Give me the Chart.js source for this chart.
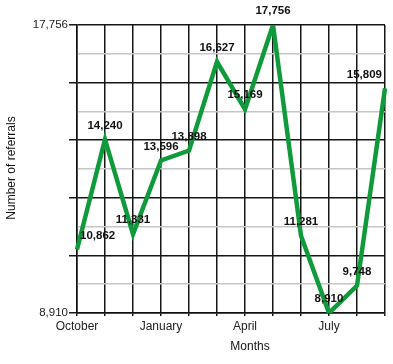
<!DOCTYPE html>
<html>
<head>
<meta charset="utf-8">
<script src="https://cdn.jsdelivr.net/npm/chart.js@4"></script>
<style>
  html, body { margin: 0; padding: 0; background: #fff; }
  #wrap { width: 393px; height: 364px; }
</style>
</head>
<body>
<div id="wrap"><canvas id="chart"></canvas></div>
<script>
// datos del gráfico
const months = ['October', 'November', 'December', 'January', 'February', 'March',
  'April', 'May', 'June', 'July', 'August', 'September'];
const referrals = [10862, 14240, 11331, 13596, 13898, 16627, 15169, 17756, 11281, 8910, 9748, 15809];
const tickLabels = ['October', 'January', 'April', 'July'];
const yMin = 8910;
const yMax = 17756;

const FONT = "'Liberation Sans', Arial, sans-serif";

// etiquetas de valores sobre cada punto
const valueLabels = {
  id: 'valueLabels',
  afterDatasetsDraw(chart) {
    const ctx = chart.ctx;
    const area = chart.chartArea;
    const meta = chart.getDatasetMeta(0);
    ctx.save();
    ctx.font = 'bold 11.5px ' + FONT;
    ctx.fillStyle = '#111';
    ctx.textAlign = 'center';
    ctx.textBaseline = 'middle';
    meta.data.forEach((pt, i) => {
      const txt = referrals[i].toLocaleString('en-US');
      const w = ctx.measureText(txt).width;
      let x = pt.x;
      x = Math.max(x, area.left + w / 2 + 3);
      x = Math.min(x, area.right - w / 2 - 3);
      ctx.fillText(txt, x, pt.y - 14);
    });
    ctx.restore();
  }
};

// títulos de ejes
const axisTitles = {
  id: 'axisTitles',
  afterDraw(chart) {
    const ctx = chart.ctx;
    ctx.save();
    ctx.font = '12px ' + FONT;
    ctx.fillStyle = '#111';
    ctx.textAlign = 'center';
    ctx.textBaseline = 'middle';
    ctx.fillText('Months', 250, 347);
    ctx.translate(12, 168);
    ctx.rotate(-Math.PI / 2);
    ctx.fillText('Number of referrals', 0, 0);
    ctx.restore();
  }
};

const ctx = document.getElementById('chart').getContext('2d');
new Chart(ctx, {
  type: 'line',
  data: {
    labels: months,
    datasets: [{
      data: referrals,
      borderColor: '#109a3c',
      borderWidth: 4.5,
      borderJoinStyle: 'miter',
      pointRadius: 0,
      tension: 0,
      fill: false
    }]
  },
  options: {
    responsive: true,
    maintainAspectRatio: false,
    animation: false,
    layout: { padding: { top: 25, right: 8, left: 0, bottom: 0 } },
    plugins: {
      legend: { display: false },
      tooltip: { enabled: false }
    },
    scales: {
      x: {
        offset: false,
        afterFit: s => { s.height = 51; },
        grid: { color: '#161616', lineWidth: 1.5, tickLength: 3, tickColor: '#161616', tickWidth: 1.5, offset: false },
        border: { color: '#111', width: 1.5 },
        ticks: {
          autoSkip: false,
          maxRotation: 0,
          padding: 3,
          color: '#222',
          font: { family: FONT, size: 12 },
          callback: function (v, i) {
            return tickLabels.includes(months[i]) ? months[i] : '';
          }
        }
      },
      y: {
        min: yMin,
        max: yMax,
        afterFit: s => { s.width = 77; },
        afterBuildTicks: s => {
          const step = (yMax - yMin) / 10;
          s.ticks = [];
          for (let i = 0; i <= 10; i++) s.ticks.push({ value: yMin + i * step });
        },
        grid: {
          color: c => (c.index % 2 === 0 ? '#161616' : '#c6c6c6'),
          lineWidth: 1.5,
          tickColor: c => (c.index % 2 === 0 ? '#161616' : 'rgba(0,0,0,0)'),
          tickWidth: 1.5,
          tickLength: 8
        },
        border: { color: '#111', width: 1.5 },
        ticks: {
          padding: 1,
          color: '#222',
          font: { family: FONT, size: 11.5 },
          callback: function (v, i) {
            return (i === 0 || i === 10) ? Math.round(v).toLocaleString('en-US') : '';
          }
        }
      }
    }
  },
  plugins: [valueLabels, axisTitles]
});
</script>
</body>
</html>
